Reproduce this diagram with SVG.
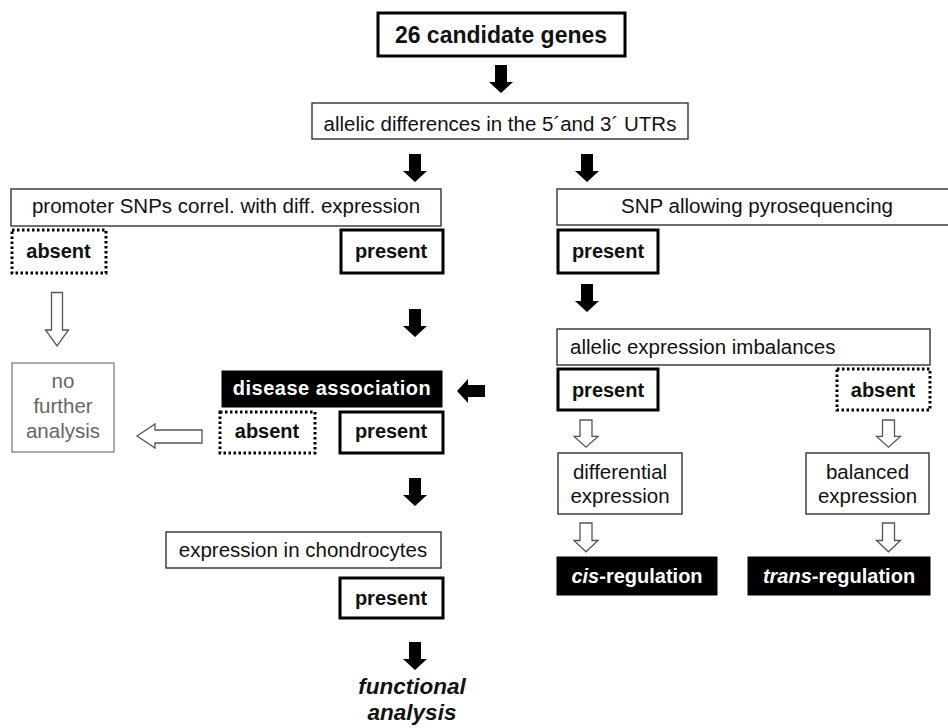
<svg xmlns="http://www.w3.org/2000/svg" width="948" height="728" viewBox="0 0 948 728">
<defs>
<style>
text{font-family:"Liberation Sans",Arial,Helvetica,sans-serif;fill:#111}
.r{font-size:20.5px;text-anchor:middle}
.b{font-size:20px;font-weight:bold;text-anchor:middle}
.w{fill:#fff}
.thin{fill:#fff;stroke:#333;stroke-width:1.4}
.thick{fill:#fff;stroke:#000;stroke-width:3}
.dot{fill:#fff;stroke:#000;stroke-width:3;stroke-dasharray:2.5 2.5}
.blk{fill:#000;stroke:#000;stroke-width:1}
.gray{fill:#fff;stroke:#888;stroke-width:1.4}
.ga{fill:#fff;stroke:#555;stroke-width:1.3;stroke-linejoin:miter}
.bar{fill:#000}
</style>
<path id="bd" d="M-6,0 H6 V17 H12 L0,28 L-12,17 H-6 Z"/>
<path id="od" d="M-6,0 H6 V17 H12 L0,28 L-12,17 H-6 Z"/>
</defs>
<rect width="948" height="728" fill="#fff"/>

<g id="connectors">
<use href="#bd" class="bar" transform="translate(501,65)"/>
<use href="#bd" class="bar" transform="translate(415,154)"/>
<use href="#bd" class="bar" transform="translate(587,154)"/>
<use href="#bd" class="bar" transform="translate(587,284)"/>
<use href="#bd" class="bar" transform="translate(415,309)"/>
<use href="#bd" class="bar" transform="translate(415,478)"/>
<use href="#bd" class="bar" transform="translate(415,642)"/>
<use href="#bd" class="bar" transform="translate(485,391) rotate(90)"/>
<path class="ga" d="M51.5,292.5 H62.5 V330 H68.5 L57,346 L45.5,330 H51.5 Z"/>
<path class="ga" d="M202,430 V443 H155 V448 L137,436 L155,424 V430 Z"/>
<use href="#od" class="ga" transform="translate(586,420) scale(1,0.97)"/>
<use href="#od" class="ga" transform="translate(888.5,420) scale(1,0.97)"/>
<use href="#od" class="ga" transform="translate(586,523) scale(1,1.03)"/>
<use href="#od" class="ga" transform="translate(888.5,523) scale(1,1.03)"/>
</g>

<g id="n-genes">
<rect class="thick" x="378" y="13" width="247" height="43"/>
<text x="501" y="43" style="font-size:23px;font-weight:bold;text-anchor:middle">26 candidate genes</text>
</g>

<g id="n-utr">
<rect class="thin" x="312" y="103" width="376" height="36"/>
<text class="r" x="500" y="131">allelic differences in the 5´and 3´ UTRs</text>
</g>

<g id="n-promoter">
<rect class="thin" x="11" y="189" width="430" height="37"/>
<text class="r" x="226" y="213">promoter SNPs correl. with diff. expression</text>
</g>
<g id="n-prom-absent">
<rect class="dot" x="12" y="230" width="94" height="43"/>
<text class="b" x="58.5" y="258">absent</text>
</g>
<g id="n-prom-present">
<rect class="thick" x="341" y="230" width="102" height="43"/>
<text class="b" x="391" y="258">present</text>
</g>

<g id="n-snp">
<rect class="thin" x="557" y="189" width="400" height="36"/>
<text class="r" x="757" y="213">SNP allowing pyrosequencing</text>
</g>
<g id="n-snp-present">
<rect class="thick" x="558" y="230" width="100" height="43"/>
<text class="b" x="608" y="258">present</text>
</g>

<g id="n-imbalance">
<rect class="thin" x="557" y="329" width="373" height="36"/>
<text x="570" y="354" style="font-size:20.5px">allelic expression imbalances</text>
</g>
<g id="n-imb-present">
<rect class="thick" x="558" y="369" width="100" height="41"/>
<text class="b" x="608" y="397">present</text>
</g>
<g id="n-imb-absent">
<rect class="dot" x="837" y="369" width="93" height="41"/>
<text class="b" x="883" y="397">absent</text>
</g>

<g id="n-nofurther">
<rect class="gray" x="12" y="363" width="102" height="89"/>
<text x="63" y="388" style="font-size:20.5px;text-anchor:middle;fill:#666">no</text>
<text x="63" y="413" style="font-size:20.5px;text-anchor:middle;fill:#666">further</text>
<text x="63" y="438" style="font-size:20.5px;text-anchor:middle;fill:#666">analysis</text>
</g>

<g id="n-disease">
<rect class="blk" x="222" y="371" width="220" height="36"/>
<text class="b w" x="332" y="395" style="letter-spacing:0.5px">disease association</text>
</g>
<g id="n-dis-absent">
<rect class="dot" x="220" y="412" width="95" height="41"/>
<text class="b" x="267" y="438">absent</text>
</g>
<g id="n-dis-present">
<rect class="thick" x="340" y="412" width="103" height="41"/>
<text class="b" x="391" y="438">present</text>
</g>

<g id="n-diff">
<rect class="thin" x="558" y="453" width="124" height="61"/>
<text class="r" x="620" y="479">differential</text>
<text class="r" x="620" y="503">expression</text>
</g>
<g id="n-balanced">
<rect class="thin" x="806" y="453" width="123" height="61"/>
<text class="r" x="867.5" y="479">balanced</text>
<text class="r" x="867.5" y="503">expression</text>
</g>

<g id="n-cis">
<rect class="blk" x="557" y="557" width="160" height="38"/>
<text class="b w" x="637" y="583"><tspan font-style="italic">cis</tspan>-regulation</text>
</g>
<g id="n-trans">
<rect class="blk" x="748" y="557" width="182" height="38"/>
<text class="b w" x="839" y="583"><tspan font-style="italic">trans</tspan>-regulation</text>
</g>

<g id="n-chondro">
<rect class="thin" x="166" y="532" width="275" height="36"/>
<text class="r" x="303" y="557">expression in chondrocytes</text>
</g>
<g id="n-chon-present">
<rect class="thick" x="340" y="578" width="103" height="40"/>
<text class="b" x="391" y="605">present</text>
</g>

<g id="n-functional">
<text x="412" y="694" style="font-size:22.5px;font-weight:bold;font-style:italic;text-anchor:middle">functional</text>
<text x="412" y="720" style="font-size:22.5px;font-weight:bold;font-style:italic;text-anchor:middle">analysis</text>
</g>
</svg>
